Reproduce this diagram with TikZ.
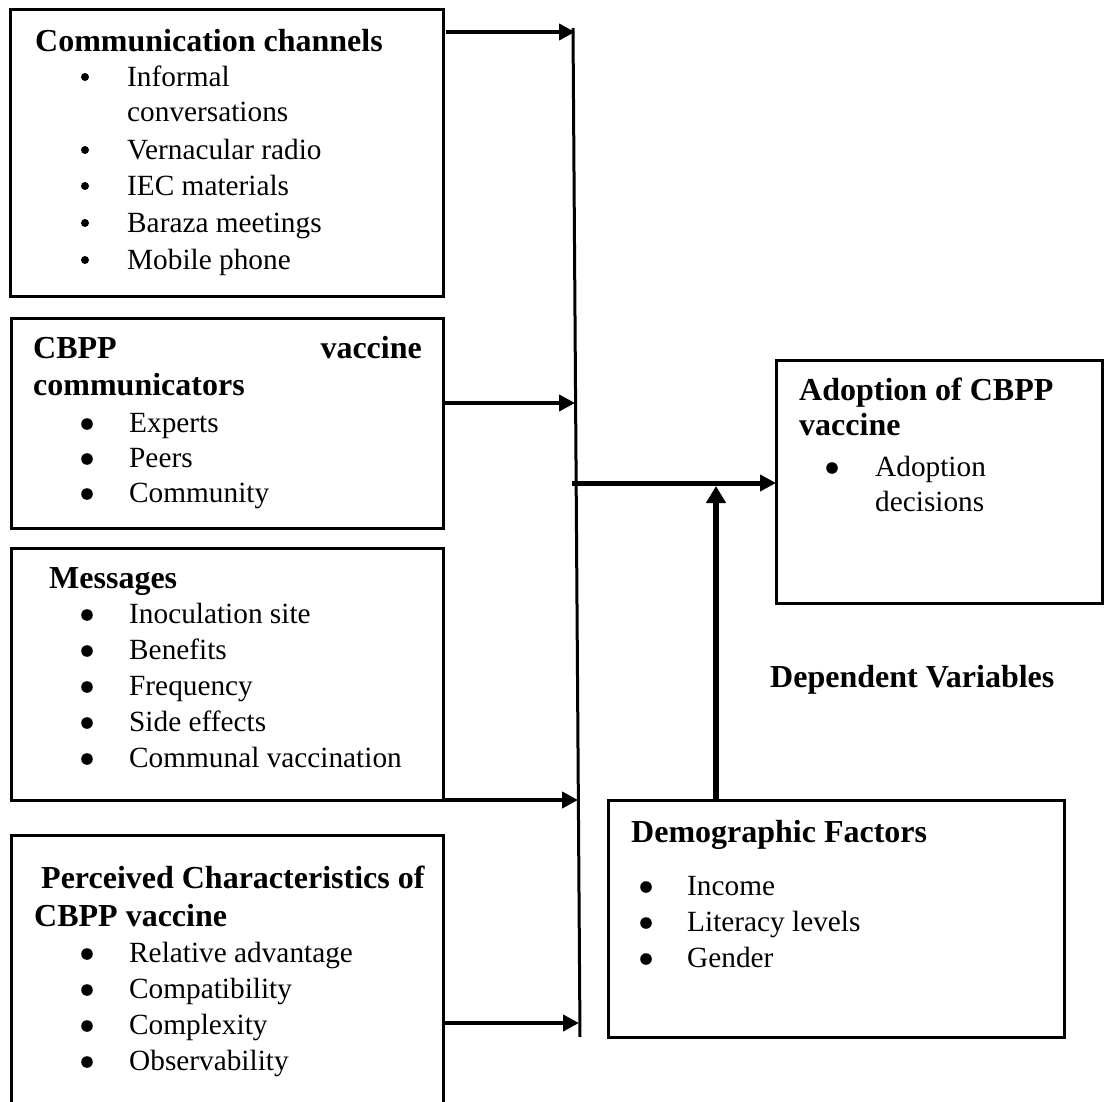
\documentclass[tikz,border=0pt]{standalone}
\usepackage{fontspec}
\setmainfont{Liberation Serif}
\usetikzlibrary{arrows.meta,calc}
\begin{document}
\begin{tikzpicture}[x=1pt,y=-1pt,
  box/.style={draw, line width=3pt, anchor=north west, inner sep=0pt, outer sep=0pt},
  hd/.style={anchor=base west, inner sep=0pt, font=\fontsize{32}{36}\selectfont\bfseries},
  it/.style={anchor=base west, inner sep=0pt, font=\fontsize{29.3}{36}\selectfont},
  arr/.style={line width=4pt, -{Triangle[length=16pt,width=16pt]}},
  bigarr/.style={line width=5pt, -{Triangle[length=16pt,width=16pt]}},
  uparr/.style={line width=6pt, -{Triangle[length=17pt,width=19pt]}},
  bus/.style={line width=3pt}]
\useasboundingbox (0,0) rectangle (1104,1102);
\clip (0,0) rectangle (1104,1102);
% boxes
\node[box, minimum width=433pt, minimum height=287pt] (b1) at (10,10) {};
\node[box, minimum width=432pt, minimum height=209pt] (b2) at (11,319) {};
\node[box, minimum width=432pt, minimum height=252pt] (b3) at (11,548) {};
\node[box, minimum width=432pt, minimum height=290pt] (b4) at (11,835) {};
\node[box, minimum width=326pt, minimum height=243pt] (adopt) at (776,360) {};
\node[box, minimum width=456pt, minimum height=237pt] (demo) at (608,800) {};
% box 1
\node[hd] (h1) at (35,52) {Communication channels};
\foreach \t/\y/\b [count=\i] in {Informal/87/1, conversations/122/0, Vernacular radio/160/1, IEC materials/196/1, Baraza meetings/233/1, Mobile phone/270/1}{
  \node[it] (ia\i) at (127,\y) {\t};
  \ifnum\b=1 \fill (85,\y-10) circle (4pt);\fi
}
% box 2
\node[hd] (h2a) at (33,358) {CBPP};
\node[hd, anchor=base east] (h2b) at (422,358) {vaccine};
\node[hd] (h2c) at (33,395) {communicators};
\foreach \t/\y [count=\i] in {Experts/432, Peers/467, Community/502}{
  \node[it] (ib\i) at (129,\y) {\t};
  \fill (87,\y-8) circle (5.8pt);
}
% box 3
\node[hd] (h3) at (49,588) {Messages};
\foreach \t/\y [count=\i] in {Inoculation site/623, Benefits/659, Frequency/695, Side effects/731, Communal vaccination/767}{
  \node[it] (ic\i) at (129,\y) {\t};
  \fill (87,\y-8) circle (5.8pt);
}
% box 4
\node[hd] (h4a) at (41,888) {Perceived Characteristics of};
\node[hd] (h4b) at (34,926) {CBPP vaccine};
\foreach \t/\y [count=\i] in {Relative advantage/962, Compatibility/998, Complexity/1034, Observability/1070}{
  \node[it] (id\i) at (129,\y) {\t};
  \fill (87,\y-8) circle (5.8pt);
}
% adoption box
\node[hd] (h5a) at (799,400) {Adoption of CBPP};
\node[hd] (h5b) at (799,435) {vaccine};
\node[it] (ie1) at (875,476) {Adoption};
\node[it] (ie2) at (875,511) {decisions};
\fill (832,468) circle (5.8pt);
% dependent variables
\node[hd] (dv) at (770,687) {Dependent Variables};
% demographic box
\node[hd] (h6) at (631,842) {Demographic Factors};
\foreach \t/\y [count=\i] in {Income/895, Literacy levels/931, Gender/967}{
  \node[it] (if\i) at (687,\y) {\t};
  \fill (646,\y-8) circle (5.8pt);
}
% connectors
\coordinate (bustop) at (573,28);
\coordinate (busbot) at (580,1037);
\draw[bus] (bustop) -- (busbot);
\coordinate (e1) at (575,32);
\coordinate (e2) at (575,403);
\coordinate (e3) at (578,800);
\coordinate (e4) at (579,1023);
\coordinate (mstart) at (572,483);
\coordinate (join) at (716,486);
\draw[arr] ($(b1.east |- e1)+(3,0)$) -- (e1);
\draw[arr] (b2.east |- e2) -- (e2);
\draw[arr] (b3.south east) -- (e3);
\draw[arr] (b4.east |- e4) -- (e4);
\draw[bigarr] (mstart) -- (adopt.west |- mstart);
\draw[uparr] (demo.north -| join) -- (join);
\end{tikzpicture}
\end{document}
